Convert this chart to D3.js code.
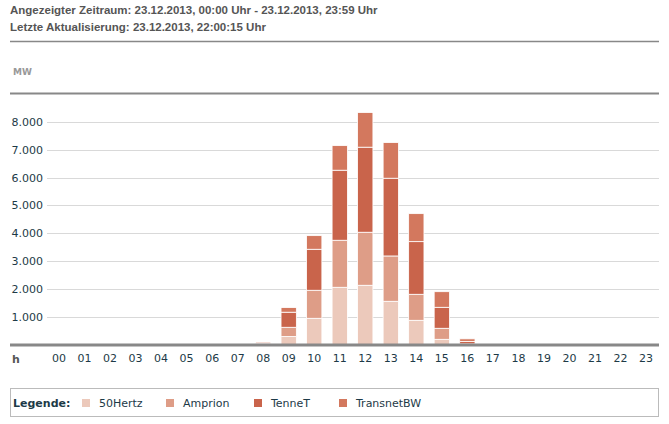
<!DOCTYPE html>
<html>
<head>
<meta charset="utf-8">
<script src="https://cdn.jsdelivr.net/npm/d3@7"></script>
<style>
  body { margin: 0; background: #fff; }
</style>
</head>
<body>
<div id="chart"></div>
<script>
// hours of the day
var hours = d3.range(24).map(function(h) { return (h < 10 ? "0" : "") + h; });

// MW per hour, per network operator
var hertz50    = [0,0,0,0,0,0,0,0, 0, 305, 957, 2068, 2140, 1566, 885, 204, 10, 0,0,0,0,0,0,0];
var amprion    = [0,0,0,0,0,0,0,0, 0, 330, 1004, 1685, 1900, 1624, 932, 395, 30, 0,0,0,0,0,0,0];
var tennet     = [0,0,0,0,0,0,0,0, 60, 540, 1469, 2509, 3047, 2785, 1886, 752, 90, 0,0,0,0,0,0,0];
var transnetbw = [0,0,0,0,0,0,0,0, 40, 165, 488, 881, 1240, 1276, 1003, 559, 90, 0,0,0,0,0,0,0];

var seriesNames = ["50Hertz", "Amprion", "TenneT", "TransnetBW"];
var seriesColors = ["#ecc9bb", "#de9d87", "#c9644b", "#d3785e"];
var yTicks = [1000, 2000, 3000, 4000, 5000, 6000, 7000, 8000];

var width = 669, height = 424;

var svg = d3.select("#chart")
  .append("svg")
    .attr("width", width)
    .attr("height", height);

// header
var header = svg.append("g")
  .style("font-family", "'Liberation Sans', Arial, sans-serif")
  .style("font-size", "11.5px")
  .style("font-weight", "bold")
  .style("fill", "#555");
header.append("text").attr("x", 10).attr("y", 14)
  .text("Angezeigter Zeitraum: 23.12.2013, 00:00 Uhr - 23.12.2013, 23:59 Uhr");
header.append("text").attr("x", 10).attr("y", 31)
  .text("Letzte Aktualisierung: 23.12.2013, 22:00:15 Uhr");

svg.append("line")
  .attr("x1", 10).attr("x2", 659).attr("y1", 41.5).attr("y2", 41.5)
  .style("stroke", "#888").style("stroke-width", 1.5);

svg.append("text")
  .attr("x", 13).attr("y", 75)
  .style("font-family", "'DejaVu Sans', Verdana, sans-serif")
  .style("font-size", "9px")
  .style("font-weight", "bold")
  .style("fill", "#999")
  .text("MW");

svg.append("line")
  .attr("x1", 10).attr("x2", 659).attr("y1", 93.5).attr("y2", 93.5)
  .style("stroke", "#888").style("stroke-width", 2);

// scales
var x = d3.scaleBand()
  .domain(hours)
  .range([46.24, 658.76])
  .paddingInner(0.4)
  .paddingOuter(0.2);

var y = d3.scaleLinear()
  .domain([0, 8000])
  .range([345, 121.7]);

var de = d3.formatLocale({ decimal: ",", thousands: ".", grouping: [3], currency: ["", " €"] });
var fmt = de.format(",");

// grid + y labels
var yAxis = svg.append("g")
  .attr("transform", "translate(47,0)")
  .call(d3.axisLeft(y).tickValues(yTicks).tickFormat(fmt).tickSize(0).tickPadding(4));
yAxis.select(".domain").remove();
yAxis.selectAll("text")
  .style("font-family", "'DejaVu Sans', Verdana, sans-serif")
  .style("font-size", "11px")
  .style("fill", "#1d3a47");

svg.append("g")
  .selectAll("line")
  .data(yTicks)
  .enter()
  .append("line")
    .attr("x1", 47).attr("x2", 659)
    .attr("y1", function(d) { return Math.round(y(d)) + 0.5; })
    .attr("y2", function(d) { return Math.round(y(d)) + 0.5; })
    .style("stroke", "#d9d9d9");

// stacked bars
var table = hours.map(function(h, i) {
  return { hour: h, "50Hertz": hertz50[i], "Amprion": amprion[i], "TenneT": tennet[i], "TransnetBW": transnetbw[i] };
});
var stacked = d3.stack().keys(seriesNames)(table);

svg.append("g")
  .selectAll("g")
  .data(stacked)
  .enter()
  .append("g")
    .style("fill", function(d, i) { return seriesColors[i]; })
  .selectAll("rect")
  .data(function(d) { return d.filter(function(p) { return p[1] - p[0] > 0; }); })
  .enter()
  .append("rect")
    .attr("x", function(d) { return x(d.data.hour); })
    .attr("width", x.bandwidth())
    .attr("y", function(d) { return y(d[1]); })
    .attr("height", function(d) { return y(d[0]) - y(d[1]); })
    .style("stroke", "#fff")
    .style("stroke-width", 0.8);

// x axis
svg.append("line")
  .attr("x1", 10).attr("x2", 659).attr("y1", 345).attr("y2", 345)
  .style("stroke", "#888").style("stroke-width", 3);

var xAxis = svg.append("g")
  .attr("transform", "translate(0,346)")
  .call(d3.axisBottom(x).tickSize(0).tickPadding(8));
xAxis.select(".domain").remove();
xAxis.selectAll("text")
  .style("font-family", "'DejaVu Sans', Verdana, sans-serif")
  .style("font-size", "11px")
  .style("fill", "#1d3a47");

svg.append("text")
  .attr("x", 12).attr("y", 363)
  .style("font-family", "'DejaVu Sans', Verdana, sans-serif")
  .style("font-size", "11px")
  .style("font-weight", "bold")
  .style("fill", "#555")
  .text("h");

// legend
svg.append("rect")
  .attr("x", 10.5).attr("y", 388.5).attr("width", 648).attr("height", 28)
  .style("fill", "none").style("stroke", "#bbb");

var legend = svg.append("g")
  .style("font-family", "'DejaVu Sans', Verdana, sans-serif")
  .style("font-size", "11px")
  .style("fill", "#1d3a47");

legend.append("text")
  .attr("x", 13).attr("y", 407)
  .style("font-weight", "bold")
  .text("Legende:");

var legendX = [82, 166, 254, 339];
var item = legend.selectAll("g.item")
  .data(seriesNames)
  .enter()
  .append("g")
    .attr("class", "item")
    .attr("transform", function(d, i) { return "translate(" + legendX[i] + ",0)"; });
item.append("rect")
  .attr("x", 0).attr("y", 399).attr("width", 8).attr("height", 8)
  .style("fill", function(d, i) { return seriesColors[i]; });
item.append("text")
  .attr("x", 17).attr("y", 407)
  .text(function(d) { return d; });
</script>
</body>
</html>
